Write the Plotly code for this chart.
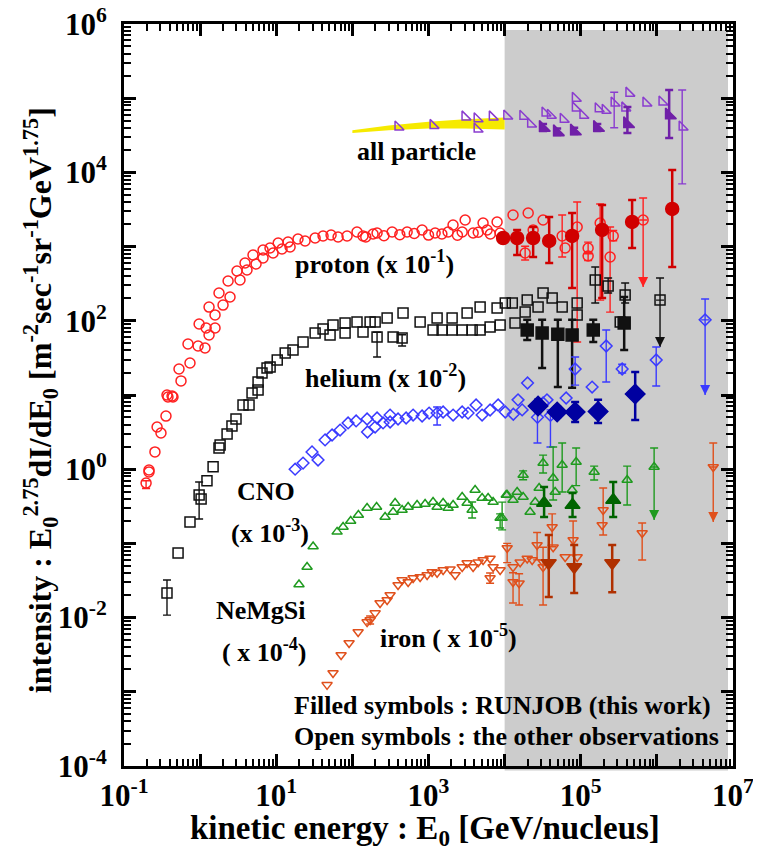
import plotly.graph_objects as go

# ---------------- DATA ----------------
# all particle
band_E = [100, 300, 1000, 3000, 10000]
band_lo = [3.4e4, 3.7e4, 3.9e4, 3.9e4, 3.8e4]
band_hi = [3.7e4, 4.3e4, 4.8e4, 5.2e4, 5.5e4]
ap_E = [398, 1150, 3020, 4360, 4360, 6900, 1.07e4, 1.74e4, 2.2e4, 3.4e4, 4.0e4, 5.9e4, 8.5e4, 8.5e4,
        1.07e5, 1.7e5, 2.1e5, 3.8e5, 4.3e5, 7.2e5, 1.17e6]
ap_I = [4.1e4, 4.3e4, 5.6e4, 5.3e4, 3.85e4, 5.6e4, 5.75e4, 5.7e4, 4.5e4, 6.3e4, 5.9e4, 5.2e4, 1.0e5, 7.4e4,
        5.9e4, 7.2e4, 6.9e4, 7.4e4, 1.17e5, 8.6e4, 8.9e4]
ap_err_E = [2.75e5, 2.15e6]
ap_err_I = [8.6e4, 4.1e4]
ap_err_hi = [1.2e5, 1.29e5]
ap_err_lo = [4.0e4, 7.0e3]
ap_run_E = [3.2e4, 4.9e4, 8.2e4, 1.65e5, 4.1e5, 1.45e6]
ap_run_I = [4.0e4, 3.5e4, 3.6e4, 4.0e4, 4.5e4, 5.9e4]
ap_run_hi = [4.5e4, 3.9e4, 4.0e4, 4.5e4, 7.6e4, 1.29e5]
ap_run_lo = [3.6e4, 3.2e4, 3.3e4, 3.6e4, 3.4e4, 2.9e4]

# proton (x 1e-1)
p_E = [0.213, 0.213, 0.255, 0.306, 0.272, 0.356, 0.378, 0.44, 0.428, 0.367, 0.561, 0.528, 0.736, 0.693,
       0.94, 1.16, 0.97, 1.20, 1.31, 1.57, 1.31, 1.57, 1.77, 2.0, 2.33, 2.47, 3.05, 3.34, 3.89, 4.13,
       4.95, 5.43, 6.71, 6.71, 8.28, 9.08, 10.6, 11.9, 14.3, 15.2, 19.3, 23.9, 32.4, 41.2, 52.5, 64.9,
       85.2, 115, 138, 187, 211, 333, 524, 824, 1222, 1810, 2100, 2770, 3030, 3860, 5210, 5890, 7960,
       8730, 150, 260, 420, 650, 1000, 1500, 2400, 4500, 6500, 9550, 1.29e4, 2.04e4, 2.37e4, 3.2e4, 6.24e4]
p_I = [0.92, 0.975, 1.71, 3.08, 3.7, 5.2, 9.4, 9.4, 9.7, 10, 15.5, 22.4, 27, 48.7,
       45.7, 43, 90.6, 80, 64.4, 80, 153, 120, 237, 163, 344, 209, 469, 355, 601, 484,
       771, 582, 900, 701, 957, 820, 1120, 929, 1150, 989, 1265, 1190, 1306, 1390, 1432, 1346,
       1390, 1574, 1390, 1479, 1524, 1574, 1574, 1675, 1524, 1574, 1954, 1574, 2280, 1524, 2080, 1675, 2146,
       1524, 1350, 1400, 1450, 1500, 1430, 1480, 1420, 1560, 1480, 1306, 2667, 2838, 1675, 2280, 957]
p_err_E = [0.195, 1.86e4, 5.7e4, 8.97e4, 1.25e5, 1.25e5, 1.8e5, 2.43e5, 2.67e5]
p_err_I = [0.65, 820, 1390, 1837, 957, 746, 2080, 724, 1390]
p_err_hi = [0.70, 1010, 2667, 3990, 1150, 850, 3750, 1837, 1650]
p_err_lo = [0.55, 660, 724, 51.8, 800, 650, 190, 131, 1200]
p_lim_E = [6.6e5]
p_lim_I = [2280]
p_lim_hi = [4520]
p_lim_lo = [286]
p_run_E = [9550, 1.46e4, 2.37e4, 3.85e4, 7.7e4, 1.91e5, 4.73e5, 1.59e6]
p_run_I = [1306, 1306, 1306, 1190, 1390, 1675, 2146, 3214]
p_run_hi = [1306, 1675, 1837, 2506, 2838, 3640, 4250, 1.08e4]
p_run_lo = [1306, 771, 724, 601, 277, 203, 957, 531]

# helium (x 1e-2)
he_E = [0.513, 0.736, 1.03, 1.23, 1.48, 1.77, 1.83, 2.26, 2.62, 2.96, 3.66, 4.39, 4.81, 5.77, 5.77, 6.5,
        7.57, 8.3, 10.3, 13.1, 16.6, 22.5, 32.4, 41.2, 55.7, 80.2, 115, 171, 50.9, 80.2, 138, 199, 286,
        343, 463, 776, 1297, 2042, 3214, 4764, 7962, 1.02e4, 1148, 1510, 2042, 2767, 3741, 4764, 6442,
        8730, 1.26e4, 1.98e4, 3.2e4, 4.21e4, 5.7e4, 8.97e4, 1.86e4, 2.75e4, 1.37e4, 8.97e4, 3.3e5]
he_I = [0.0743, 0.194, 0.396, 0.70, 1.08, 1.93, 2.12, 2.98, 3.82, 4.75, 7.33, 7.33, 10.6, 11.7, 15.0, 19.8,
        23.1, 23.8, 29.6, 36.8, 40.4, 51.8, 68.5, 77.5, 87.7, 93.4, 96.4, 96.4, 64.4, 68.5, 70.6, 96.4, 109,
        60.5, 127, 96.4, 109, 109, 127, 153, 149, 174, 75.2, 75.2, 75.2, 75.2, 75.2, 75.2, 82.4,
        87.7, 174, 190, 237, 203, 153, 174, 131, 153, 93.4, 120, 96.4]
he_err_E = [0.367, 0.97, 211, 450, 1.55e5, 2.29e5, 3.83e5]
he_err_I = [0.0215, 0.449, 60.5, 58.6, 355, 294, 223]
he_err_hi = [0.0321, 0.671, 70, 65, 531, 378, 323]
he_err_lo = [0.0108, 0.213, 32.5, 45.7, 174, 237, 174]
he_lim_E = [1.1e6]
he_lim_I = [190]
he_lim_hi = [378]
he_lim_lo = [44.4]
he_run_E = [1.98e4, 3.11e4, 5.0e4, 7.7e4, 1.46e5, 3.72e5]
he_run_I = [75.2, 68.5, 66, 64.4, 75.2, 93.4]
he_run_hi = [103, 103, 103, 103, 103, 209]
he_run_lo = [55.1, 23.1, 12.8, 12.5, 51.8, 40.4]

# CNO (x 1e-3)
c_E = [17.7, 22.5, 29.5, 35.4, 43.8, 54.1, 68.9, 87.8, 112, 156, 158, 199, 211, 253, 313, 313, 398, 508,
       628, 824, 1019, 1556, 2105, 2767, 3312, 4217, 5058, 6442, 8222, 1.02e4, 1.5e4, 3.2e4, 3.6e4,
       6.43e4, 1.41e5, 1.3e4, 1.7e4, 2.0e4]
c_I = [1.0, 1.21, 1.71, 1.33, 2.48, 2.89, 3.37, 4.2, 4.47, 4.75, 3.17, 3.7, 4.9, 4.2, 5.37, 4.33, 4.75, 4.9,
       5.37, 5.21, 5.71, 5.9, 5.37, 5.9, 5.71, 7.33, 5.37, 6.28, 7.33, 5.9, 8.6, 7.8, 8.6,
       9.12, 12.8, 5.5, 6.3, 14.5]
c_err_E = [1297, 2.7e4, 4.0e4, 8.44e4, 2.16e5, 3.5e5, 9.8e5]
c_err_I = [5.71, 5.0, 5.3, 22.4, 45.7, 22.4, 29.6]
c_err_hi = [6.89, 6.0, 6.3, 32.5, 75.2, 26, 44.4]
c_err_lo = [3.94, 2.25, 1.99, 13.6, 15.0, 19.8, 13.2]
c_lim_E = [4.3e6]
c_lim_I = [103]
c_lim_hi = [197]
c_lim_lo = [10]
c_run_E = [2.75e4, 4.9e4, 8.44e4, 1.69e5, 5.19e5]
c_run_I = [7.1, 5.9, 5.9, 6.0, 10.3]
c_run_hi = [8.6, 7.0, 8.05, 8.6, 20.4]
c_run_lo = [5.9, 5.0, 4.33, 4.2, 4.6]

# NeMgSi (x 1e-4)
n_E = [19.9, 25.4, 30.5, 63, 75.5, 95, 120, 156, 208, 269, 343, 364, 450, 540, 708, 902, 1148, 1297, 1556,
       1810, 2105, 2767, 3214, 4095, 5058, 6068, 7059, 1.05e4, 1.08e4, 1.29e4, 1.46e4, 1.75e4, 2.16e4,
       2.52e4, 2.84e4, 4.61e4, 7.7e4]
n_I = [0.028, 0.048, 0.091, 0.143, 0.166, 0.20, 0.242, 0.30, 0.31, 0.227, 0.265, 0.35, 0.282, 0.31, 0.33,
       0.34, 0.361, 0.31, 0.35, 0.30, 0.33, 0.422, 0.35, 0.525, 0.41, 0.41, 0.361, 0.449, 0.449, 0.385,
       0.493, 0.422, 0.265, 0.361, 0.558, 0.493, 0.525]
n_err_E = [3741, 8730, 9270, 1.75e4, 3.2e4, 4.34e4, 5.7e4, 8.7e4, 1.5e5, 4.07e5]
n_err_I = [0.282, 0.22, 0.22, 0.835, 1.21, 0.76, 1.14, 1.25, 0.916, 0.715]
n_err_hi = [0.361, 0.25, 0.36, 0.95, 1.55, 1.99, 2.25, 1.93, 1.1, 1.1]
n_err_lo = [0.22, 0.161, 0.152, 0.72, 0.89, 0.385, 0.493, 0.6, 0.715, 0.33]
n_lim_E = [9.2e5]
n_lim_I = [1.07]
n_lim_hi = [1.93]
n_lim_lo = [0.207]
n_run_E = [3.3e4, 7.8e4, 2.67e5]
n_run_I = [0.35, 0.33, 0.385]
n_run_hi = [0.575, 0.477, 0.671]
n_run_lo = [0.227, 0.227, 0.227]

# iron (x 1e-5)
fe_E = [46.5, 55.7, 71.1, 90.5, 119, 156, 199, 231, 286, 313, 398, 450, 540, 628, 776, 959, 1115, 1297,
        1556, 1923, 2239, 2767, 3214, 3855, 4487, 5213, 6442, 7059, 8730, 1.29e4, 1.6e4, 1.98e4, 2.3e4,
        3.2e4, 4.34e4, 6.24e4, 8.97e4, 1.91e5]
fe_I = [0.00124, 0.00179, 0.00313, 0.00455, 0.0064, 0.0087, 0.0115, 0.0157, 0.0173, 0.0202, 0.0275, 0.0321,
        0.0302, 0.0342, 0.0352, 0.0375, 0.0412, 0.0402, 0.0439, 0.045, 0.0375, 0.0481, 0.0544, 0.0481,
        0.0557, 0.0597, 0.0625, 0.0481, 0.0439, 0.0481, 0.0557, 0.0625, 0.0597, 0.0557, 0.0889, 0.0656,
        0.0656, 0.177]
fe_err_E = [171, 6442, 1.08e4, 2.67e4, 4.21e4, 7.94e4, 1.29e4, 1.55e4, 3.2e4, 1.97e5, 6.41e5]
fe_err_I = [0.0093, 0.0342, 0.0867, 0.0951, 0.166, 0.111, 0.0302, 0.029, 0.0481, 0.282, 0.138]
fe_err_hi = [0.0105, 0.040, 0.10, 0.14, 0.25, 0.20, 0.0402, 0.039, 0.0889, 0.558, 0.188]
fe_err_lo = [0.0082, 0.029, 0.055, 0.06, 0.09, 0.07, 0.0157, 0.0148, 0.0148, 0.13, 0.0597]
fe_lim_E = [5.5e6]
fe_lim_I = [1.07]
fe_lim_hi = [2.25]
fe_lim_lo = [0.194]
fe_run_E = [3.8e4, 8.2e4, 2.59e5]
fe_run_I = [0.0544, 0.0481, 0.0544]
fe_run_hi = [0.13, 0.0951, 0.0951]
fe_run_lo = [0.019, 0.0215, 0.022]

x_tick_vals = [1e-1, 1e0, 1e1, 1e2, 1e3, 1e4, 1e5, 1e6, 1e7]
x_tick_text = ['10<sup>-1</sup>', '', '10<sup>1</sup>', '', '10<sup>3</sup>', '', '10<sup>5</sup>', '', '10<sup>7</sup>']
y_tick_vals = [1e-4, 1e-3, 1e-2, 1e-1, 1e0, 1e1, 1e2, 1e3, 1e4, 1e5, 1e6]
y_tick_text = ['10<sup>-4</sup>', '', '10<sup>-2</sup>', '', '10<sup>0</sup>', '', '10<sup>2</sup>', '',
               '10<sup>4</sup>', '', '10<sup>6</sup>']

# ---------------- FIGURE ----------------
FONT = 'Liberation Serif'
fig = go.Figure()


def pts(E, I, symbol, size, color, lw=1.5):
    fig.add_trace(go.Scatter(x=E, y=I, mode='markers', showlegend=False, hoverinfo='skip',
                             marker=dict(symbol=symbol, size=size, color=color,
                                         line=dict(color=color, width=lw))))


def errpts(E, I, hi, lo, symbol, size, color, lw=1.5, ew=1.4):
    up = [h - v for h, v in zip(hi, I)]
    dn = [v - l for v, l in zip(I, lo)]
    fig.add_trace(go.Scatter(x=E, y=I, mode='markers', showlegend=False, hoverinfo='skip',
                             marker=dict(symbol=symbol, size=size, color=color,
                                         line=dict(color=color, width=lw)),
                             error_y=dict(type='data', symmetric=False, array=up, arrayminus=dn,
                                          color=color, thickness=ew, width=4)))


def limit(E, I, hi, lo, symbol, size, color):
    errpts(E, I, hi, I, symbol, size, color)
    fig.add_trace(go.Scatter(x=E, y=I, mode='lines', showlegend=False, hoverinfo='skip',
                             line=dict(width=0),
                             error_y=dict(type='data', symmetric=False, array=[0] * len(I),
                                          arrayminus=[v - l for v, l in zip(I, lo)],
                                          color=color, thickness=1.4, width=0)))
    fig.add_trace(go.Scatter(x=E, y=lo, mode='markers', showlegend=False, hoverinfo='skip',
                             marker=dict(symbol='arrow-down', size=10, color=color,
                                         line=dict(width=0))))


# yellow band
fig.add_trace(go.Scatter(x=band_E, y=band_lo, mode='lines', line=dict(width=0, color='#f6ea00'),
                         showlegend=False, hoverinfo='skip'))
fig.add_trace(go.Scatter(x=band_E, y=band_hi, mode='lines', line=dict(width=0, color='#f6ea00'),
                         fill='tonexty', fillcolor='#f6ea00', showlegend=False, hoverinfo='skip'))

PURPLE_O = '#8a3ccf'
PURPLE_F = '#7020a8'
RED_O = '#ff2020'
RED_F = '#d00000'
BLK = '#111111'
BLUE_O = '#3a3aff'
BLUE_F = '#0000a0'
GREEN_O = '#1f9a1f'
GREEN_F = '#006400'
IRON_O = '#e0501c'
IRON_F = '#b03000'

pts(ap_E, ap_I, 'triangle-sw-open', 10, PURPLE_O)
errpts(ap_err_E, ap_err_I, ap_err_hi, ap_err_lo, 'triangle-sw-open', 10, PURPLE_O)
errpts(ap_run_E, ap_run_I, ap_run_hi, ap_run_lo, 'triangle-sw', 12, PURPLE_F, ew=2.5)

pts(p_E, p_I, 'circle-open', 10, RED_O)
errpts(p_err_E, p_err_I, p_err_hi, p_err_lo, 'circle-open', 10, RED_O)
limit(p_lim_E, p_lim_I, p_lim_hi, p_lim_lo, 'circle-open', 10, RED_O)
errpts(p_run_E, p_run_I, p_run_hi, p_run_lo, 'circle', 13, RED_F, ew=2.5)

pts(he_E, he_I, 'square-open', 10, BLK)
errpts(he_err_E, he_err_I, he_err_hi, he_err_lo, 'square-open', 10, BLK)
limit(he_lim_E, he_lim_I, he_lim_hi, he_lim_lo, 'square-open', 10, BLK)
errpts(he_run_E, he_run_I, he_run_hi, he_run_lo, 'square', 12, BLK, ew=2.5)

pts(c_E, c_I, 'diamond-open', 9, BLUE_O)
errpts(c_err_E, c_err_I, c_err_hi, c_err_lo, 'diamond-open', 9, BLUE_O)
limit(c_lim_E, c_lim_I, c_lim_hi, c_lim_lo, 'diamond-open', 9, BLUE_O)
errpts(c_run_E, c_run_I, c_run_hi, c_run_lo, 'diamond', 15, BLUE_F, ew=2.5)

pts(n_E, n_I, 'triangle-up-open', 9, GREEN_O)
errpts(n_err_E, n_err_I, n_err_hi, n_err_lo, 'triangle-up-open', 9, GREEN_O)
limit(n_lim_E, n_lim_I, n_lim_hi, n_lim_lo, 'triangle-up-open', 9, GREEN_O)
errpts(n_run_E, n_run_I, n_run_hi, n_run_lo, 'triangle-up', 13, GREEN_F, ew=2.5)

pts(fe_E, fe_I, 'triangle-down-open', 9, IRON_O)
errpts(fe_err_E, fe_err_I, fe_err_hi, fe_err_lo, 'triangle-down-open', 9, IRON_O)
limit(fe_lim_E, fe_lim_I, fe_lim_hi, fe_lim_lo, 'triangle-down-open', 9, IRON_O)
errpts(fe_run_E, fe_run_I, fe_run_hi, fe_run_lo, 'triangle-down', 13, IRON_F, ew=2.5)

# gray RUNJOB region
fig.add_shape(type='rect', xref='x', yref='paper', x0=1e4, x1=8.6e6, y0=-0.006, y1=0.992,
              fillcolor='#cccccc', line=dict(width=0), layer='below')

ann_font = dict(family=FONT, size=26, color='black', weight='bold')
labels = [
    ('all particle', 0.481, 0.8275, 'center'),
    ('proton (x 10<sup>-1</sup>)', 0.2775, 0.678, 'left'),
    ('helium (x 10<sup>-2</sup>)', 0.294, 0.5256, 'left'),
    ('CNO', 0.2332, 0.3693, 'center'),
    ('(x 10<sup>-3</sup>)', 0.2397, 0.3154, 'center'),
    ('NeMgSi', 0.225, 0.2089, 'center'),
    ('( x 10<sup>-4</sup>)', 0.2299, 0.1563, 'center'),
    ('iron ( x 10<sup>-5</sup>)', 0.417, 0.1739, 'left'),
    ('Filled symbols : RUNJOB (this work)', 0.276, 0.0809, 'left'),
    ('Open symbols : the other observations', 0.276, 0.0404, 'left'),
]
for txt, xp, yp, xa in labels:
    fig.add_annotation(text=txt, x=xp, y=yp, xref='paper', yref='paper', xanchor=xa, yanchor='middle',
                       showarrow=False, font=ann_font)

fig.add_annotation(text='kinetic energy : E<sub>0</sub> [GeV/nucleus]', x=0.494, y=-0.087,
                   xref='paper', yref='paper', xanchor='center', yanchor='middle', showarrow=False,
                   font=dict(family=FONT, size=33, color='black', weight='bold'))
fig.add_annotation(text='intensity : E<sub>0</sub><sup>2.75</sup>dI/dE<sub>0</sub> '
                        '[m<sup>-2</sup>sec<sup>-1</sup>sr<sup>-1</sup>GeV<sup>1.75</sup>]',
                   x=-0.138, y=0.493, xref='paper', yref='paper', xanchor='center', yanchor='middle',
                   textangle=-90, showarrow=False,
                   font=dict(family=FONT, size=32, color='black', weight='bold'))

axis_common = dict(type='log', showgrid=False, zeroline=False, showline=True, linewidth=3,
                   linecolor='black', mirror='allticks', ticks='inside', ticklen=12, tickwidth=2.5,
                   tickcolor='black', automargin=False, ticklabeloverflow='allow',
                   tickfont=dict(family=FONT, size=31, color='black', weight='bold'),
                   minor=dict(ticks='inside', ticklen=7, tickwidth=2, tickcolor='black', dtick='D1',
                              showgrid=False))
fig.update_xaxes(range=[-1, 7], tickmode='array', tickvals=x_tick_vals, ticktext=x_tick_text, **axis_common)
fig.update_yaxes(range=[-4, 6], tickmode='array', tickvals=y_tick_vals, ticktext=y_tick_text,
                 ticklabelstandoff=8, **axis_common)

# the page body adds an 8px offset; the figure is sized so the plot area lands where the reference has it
fig.update_layout(width=753, height=842, margin=dict(l=116, r=28, t=16, b=84, autoexpand=False),
                  plot_bgcolor='rgba(0,0,0,0)', paper_bgcolor='white', showlegend=False)

fig.write_html('out.html')
